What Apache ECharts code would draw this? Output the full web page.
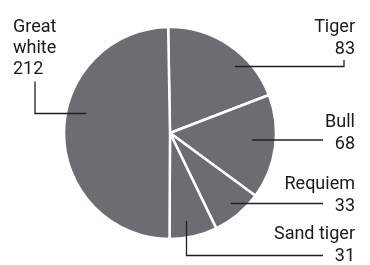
<!DOCTYPE html>
<html>
<head>
<meta charset="utf-8">
<script src="https://cdn.jsdelivr.net/npm/echarts@6/dist/echarts.min.js"></script>
<style>
  html, body { margin: 0; padding: 0; background: #fff; }
  #chart { width: 370px; height: 265px; }
</style>
</head>
<body>
<div id="chart"></div>
<script>
// shark species, clockwise from 12 o'clock
const species = ['Tiger', 'Bull', 'Requiem', 'Sand tiger', 'Great white']
const attacks = [83, 68, 33, 31, 212]

// label placement (text box anchor + leader line points), per slice
const labelPos = [
  { x: 355, y: 16.5, align: 'right', line: [[235, 66.5], [344, 66.5], [344, 60]] },
  { x: 355, y: 111.5, align: 'right', line: [[252, 140], [323, 140]] },
  { x: 355, y: 173.5, align: 'right', line: [[231, 203.5], [323, 203.5]] },
  { x: 355, y: 223.5, align: 'right', line: [[186.5, 221], [186.5, 255.5], [323, 255.5]] },
  { x: 13, y: 17, align: 'left', line: [[86.5, 113.5], [35, 113.5], [35, 81.5]] },
]

const chart = echarts.init(document.getElementById('chart'))

chart.setOption({
  animation: false,
  // leader lines sit on top of the slices
  graphic: labelPos.map(pos => ({
    type: 'polyline',
    z: 100,
    silent: true,
    shape: { points: pos.line },
    style: { stroke: '#231f20', lineWidth: 1.3, fill: null },
  })),
  series: [{
    type: 'pie',
    center: [170, 133],
    radius: 106,
    startAngle: 91,
    clockwise: true,
    avoidLabelOverlap: false,
    silent: true,
    itemStyle: {
      color: '#6c6d70',
      borderColor: '#fff',
      borderWidth: 2.5,
    },
    label: {
      show: true,
      position: 'outside',
      fontFamily: 'Roboto',
      fontSize: 18,
      lineHeight: 22,
      color: '#1a1a1a',
      formatter: p => p.dataIndex === 4
        ? p.name.replace(' ', '\n') + '\n' + p.value
        : p.name + '\n' + p.value,
    },
    labelLine: { show: false },
    labelLayout: params => {
      const pos = labelPos[params.dataIndex]
      return {
        x: pos.x,
        y: pos.y,
        align: pos.align,
        verticalAlign: 'top',
      }
    },
    data: species.map((name, i) => ({
      name,
      value: attacks[i],
      label: i === 4 ? { lineHeight: 21, align: 'left' } : { align: 'right' },
    })),
  }],
})
</script>
</body>
</html>
